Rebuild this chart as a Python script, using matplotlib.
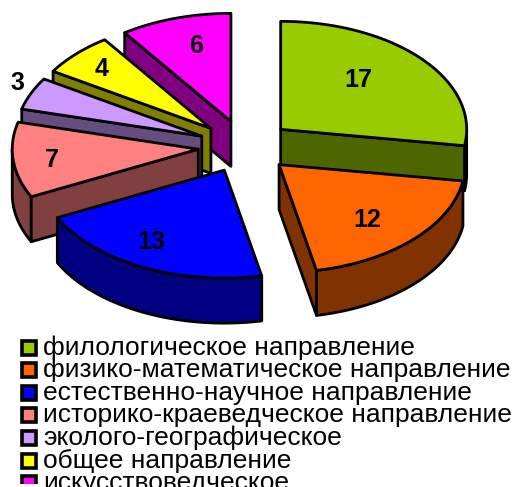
import numpy as np
import matplotlib
matplotlib.use('Agg')
import matplotlib.pyplot as plt
from matplotlib.patches import Polygon, Rectangle

plt.rcParams['font.family'] = ['Liberation Sans', 'DejaVu Sans']

names = ['филологическое направление', 'физико-математическое направление',
         'естественно-научное направление', 'историко-краеведческое направление',
         'эколого-географическое', 'общее направление', 'искусствоведческое']
values = [17, 12, 13, 7, 3, 4, 6]
colors = ['#99CC00', '#FF6600', '#0000FF', '#FF8080', '#CC99FF', '#FFFF00', '#FF00FF']
label_x = [358, 367, 151, 52, 17, 102, 196]
label_y = [80, 220, 242, 160, 83, 69, 46]

cx, cy = 245, 146.5
rx, ry = 186, 108
explode = 47
squash = 0.56
depth = 45

fig = plt.figure(figsize=(5.17, 4.87), dpi=100)
ax = fig.add_axes([0, 0, 1, 1])
ax.set_xlim(0, 517)
ax.set_ylim(487, 0)
ax.axis('off')

edges = np.concatenate([[0], np.cumsum(values)]) / sum(values) * 360


def arc(px, py, a, b):
    t = np.radians(np.linspace(a, b, 80))
    return np.column_stack([px + rx * np.sin(t), py - ry * np.cos(t)])


def face(pts, fc, z):
    ax.add_patch(Polygon(pts, closed=True, fc=fc, ec='black', lw=2, joinstyle='round', zorder=z))


def wall(px, py, ang, fc, z):
    end = arc(px, py, ang, ang)[0]
    face([(px, py), end, (end[0], end[1] + depth), (px, py + depth)], fc, z)


# back slices first, the first three sit in front of the rest
order = [6, 5, 4, 3, 0, 1, 2]
for z, i in enumerate(order):
    a, b = edges[i], edges[i + 1]
    mid = np.radians((a + b) / 2)
    px = cx + explode * np.sin(mid)
    py = cy - explode * squash * np.cos(mid)
    dark = tuple(c * 0.5 for c in matplotlib.colors.to_rgb(colors[i]))

    lo, hi = max(a, 90), min(b, 270)
    if lo < hi:
        rim = arc(px, py, lo, hi)
        face(np.vstack([rim, rim[::-1] + [0, depth]]), dark, z + 2)
    if a > 180:
        wall(px, py, a, dark, z + 2)
    if b < 180:
        wall(px, py, b, dark, z + 2)
    face(np.vstack([[(px, py)], arc(px, py, a, b)]), colors[i], z + 2)

for v, x, y in zip(values, label_x, label_y):
    ax.text(x, y, str(v), fontsize=18, fontweight='bold', ha='center', va='center', zorder=20)

# legend, the last row is cut off by the bottom of the picture
clip = Rectangle((0, 0), 517, 484, transform=ax.transData)
for k, (name, col) in enumerate(zip(names, colors)):
    y = 347.5 + k * 22.6
    sq = Rectangle((22, y - 7), 14, 14, fc=col, ec='black', lw=2.6, zorder=20)
    ax.add_patch(sq)
    sq.set_clip_path(clip)
    t = ax.text(43, y, name, fontsize=19, ha='left', va='center', zorder=20)
    t.set_clip_path(clip)

fig.savefig('out.png', dpi=100)
